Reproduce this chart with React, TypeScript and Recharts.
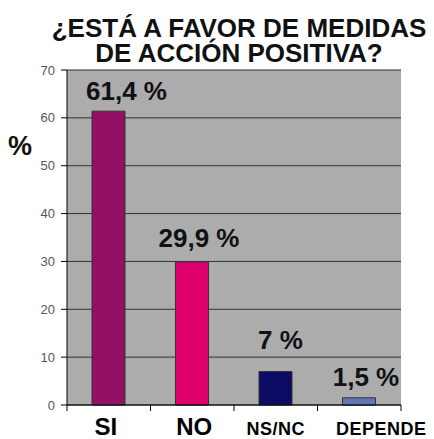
import React from 'react';
import { BarChart, Bar, XAxis, YAxis, CartesianGrid, Cell, LabelList } from 'recharts';

const categories = ['SI', 'NO', 'NS/NC', 'DEPENDE'];
const percentages = [61.4, 29.9, 7, 1.5];
const yTicks = [0, 10, 20, 30, 40, 50, 60, 70];
const barColors = ['#921066', '#E0006E', '#0B0B63', '#6775B5'];

const W = 434;
const H = 439;
const PLOT_LEFT = 67;
const PLOT_RIGHT = 33;
const STEP = (W - PLOT_LEFT - PLOT_RIGHT) / categories.length;
const FONT = '"Liberation Sans", Arial, sans-serif';

const data = categories.map((name, i) => ({ name, value: percentages[i] }));

// x label sizes/offsets to mimic the original slide
const tickFont = [24, 24, 18, 18];
const tickDx = [-3, 2, 0, 22];
const labelDx = [18, 7, 5, 7];
const labelGap = [11, 15, 23, 12];

const CategoryTick = (props: any) => {
  const { x, y, payload, index } = props;
  const axisY = y - 6;
  return (
    <g>
      <line x1={x - STEP / 2} x2={x - STEP / 2} y1={axisY} y2={axisY + 6} stroke="#000" />
      {index === categories.length - 1 && (
        <line x1={x + STEP / 2} x2={x + STEP / 2} y1={axisY} y2={axisY + 6} stroke="#000" />
      )}
      <text
        x={x + tickDx[index]}
        y={axisY + 30}
        textAnchor="middle"
        fontFamily={FONT}
        fontWeight="bold"
        fontSize={tickFont[index]}
        letterSpacing={index > 1 ? 0.5 : 0}
        fill="#000"
      >
        {payload.value}
      </text>
    </g>
  );
};

const ValueLabel = (props: any) => {
  const { x, y, width, value, index } = props;
  return (
    <text
      x={x + width / 2 + labelDx[index]}
      y={y - labelGap[index]}
      textAnchor="middle"
      fontFamily={FONT}
      fontWeight="bold"
      fontSize={26}
      fill="#111"
    >
      {String(value).replace('.', ',') + ' %'}
    </text>
  );
};

const titleLine: React.CSSProperties = {
  position: 'absolute',
  left: 0,
  width: W + 44,
  textAlign: 'center',
  fontWeight: 'bold',
  fontSize: 26,
  lineHeight: '24px',
  color: '#111',
};

export default function App() {
  return (
    <div style={{ position: 'absolute', left: 0, top: 0, width: W, height: H, background: '#fff', fontFamily: FONT }}>
      <div style={{ ...titleLine, top: 16 }}>¿ESTÁ A FAVOR DE MEDIDAS</div>
      <div style={{ ...titleLine, top: 41 }}>DE ACCIÓN POSITIVA?</div>
      <div style={{ position: 'absolute', left: 8, top: 131, fontWeight: 'bold', fontSize: 27, color: '#111' }}>%</div>
      <BarChart width={W} height={H} data={data} margin={{ top: 70, right: PLOT_RIGHT, left: 0, bottom: 0 }}>
        <CartesianGrid vertical={false} fill="#ACACAC" stroke="#333" />
        <XAxis
          dataKey="name"
          height={34}
          axisLine={{ stroke: '#000' }}
          tickLine={false}
          tickSize={6}
          tickMargin={0}
          tick={<CategoryTick />}
          interval={0}
        />
        <YAxis
          width={PLOT_LEFT}
          domain={[0, 70]}
          ticks={yTicks}
          interval={0}
          axisLine={{ stroke: '#000' }}
          tickLine={{ stroke: '#000' }}
          tickSize={6}
          tickMargin={6}
          tick={{ fontSize: 13, fill: '#555', fontFamily: FONT }}
        />
        <Bar dataKey="value" barSize={33} stroke="#333" strokeWidth={1} isAnimationActive={false}>
          {data.map((d, i) => (
            <Cell key={d.name} fill={barColors[i]} />
          ))}
          <LabelList dataKey="value" content={<ValueLabel />} />
        </Bar>
      </BarChart>
    </div>
  );
}
